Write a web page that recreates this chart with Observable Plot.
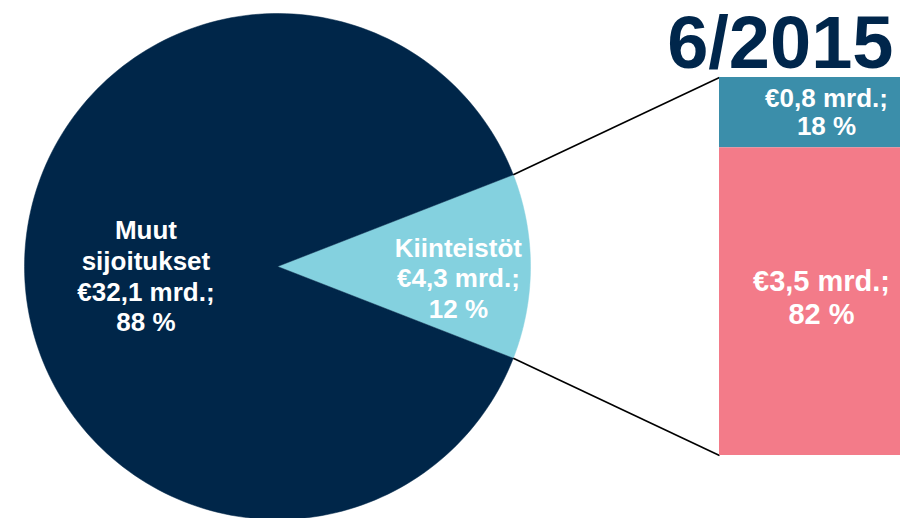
<!DOCTYPE html>
<html>
<head>
<meta charset="utf-8">
<script src="https://cdn.jsdelivr.net/npm/d3@7"></script>
<script src="https://cdn.jsdelivr.net/npm/@observablehq/plot@0.6"></script>
<style>
  html, body { margin: 0; padding: 0; background: #fff; }
  #chart svg { display: block; }
</style>
</head>
<body>
<div id="chart"></div>
<script>
// ---- data ----
const pieCategories = ["Kiinteistöt", "Muut sijoitukset"];
const pieValues = [4.3, 32.1];          // € mrd.
const piePercents = [12, 88];
const pieLabels = ["Kiinteistöt\n€4,3 mrd.;\n12 %", "Muut\nsijoitukset\n€32,1 mrd.;\n88 %"];
const pieColors = ["#84d1df", "#002649"];

const barCategories = ["top", "bottom"];
const barValues = [0.8, 3.5];           // € mrd.
const barPercents = [18, 82];
const barLabels = ["€0,8 mrd.;\n18 %", "€3,5 mrd.;\n82 %"];
const barColors = ["#3b8eaa", "#f37b89"];

const titleText = "6/2015";

// ---- layout ----
const W = 900, H = 518;
const cx = 277, cy = 266, R = 253;
const barX1 = 719, barX2 = 901, barTop = 77, barBottom = 455;

// pie geometry from values: first slice centred on the right (angle 0)
const total = d3.sum(pieValues);
const firstSpan = pieValues[0] / total * 2 * Math.PI;
let a0 = -firstSpan / 2;
const slices = pieValues.map((v, i) => {
  const span = v / total * 2 * Math.PI;
  const s = {i, start: a0, end: a0 + span};
  a0 += span;
  return s;
});
const polyPts = [];
slices.forEach(s => {
  polyPts.push({i: s.i, x: cx, y: cy});
  const n = 200;
  for (let k = 0; k <= n; k++) {
    const a = s.start + (s.end - s.start) * k / n;
    polyPts.push({i: s.i, x: cx + R * Math.cos(a), y: cy + R * Math.sin(a)});
  }
  polyPts.push({i: s.i, x: cx, y: cy});
});

// label positions (polar, from slice mid-angles)
const labelR = [0.715, 0.52];
const labelDy = [11, 9];
const pieText = slices.map(s => {
  const m = (s.start + s.end) / 2;
  return {i: s.i, label: pieLabels[s.i],
    x: cx + labelR[s.i] * R * Math.cos(m),
    y: cy + labelR[s.i] * R * Math.sin(m) + labelDy[s.i]};
});

// stacked bar from values
const barTotal = d3.sum(barValues);
let acc = 0;
const barSegs = barValues.map((v, i) => {
  const y1 = barTop + acc / barTotal * (barBottom - barTop);
  acc += v;
  const y2 = barTop + acc / barTotal * (barBottom - barTop);
  return {i, x1: barX1, x2: barX2, y1, y2, label: barLabels[i]};
});
const barTextX = [826, 821];
const barTextSize = [26, 29];
const barTextDy = [-0.5, -5];

// connector lines from slice edges to bar corners
const s0 = slices[0];
const links = [
  {x1: cx + R * Math.cos(s0.start), y1: cy + R * Math.sin(s0.start), x2: barX1, y2: barTop},
  {x1: cx + R * Math.cos(s0.end), y1: cy + R * Math.sin(s0.end), x2: barX1, y2: barBottom}
];

const font = "'Liberation Sans', Arial, sans-serif";

const chart = Plot.plot({
  width: W, height: H,
  margin: 0,
  x: {domain: [0, W], range: [0, W], axis: null},
  y: {domain: [0, H], range: [0, H], axis: null},
  style: {fontFamily: font, background: "#fff"},
  marks: [
    ...slices.map(s => Plot.line(polyPts.filter(p => p.i === s.i),
      {x: "x", y: "y", fill: pieColors[s.i], stroke: pieColors[s.i], strokeWidth: 0.5, curve: "linear"})),
    Plot.link(links, {x1: "x1", y1: "y1", x2: "x2", y2: "y2", stroke: "#000", strokeWidth: 1.6}),
    Plot.rect(barSegs, {x1: "x1", x2: "x2", y1: "y1", y2: "y2", fill: d => barColors[d.i]}),
    Plot.text(pieText, {x: "x", y: "y", text: "label", fill: "#fff", fontSize: 26, fontWeight: "bold",
      lineHeight: 1.18, textAnchor: "middle", lineAnchor: "middle"}),
    ...barSegs.map(d => Plot.text([d], {x: barTextX[d.i], y: d => (d.y1 + d.y2) / 2 + barTextDy[d.i],
      text: "label", fill: "#fff", fontSize: barTextSize[d.i], fontWeight: "bold",
      lineHeight: d.i === 0 ? 1.08 : 1.15, textAnchor: "middle", lineAnchor: "middle"})),
    Plot.text([titleText], {x: 893, y: 67, text: d => d, fill: "#00264b", fontSize: 74, fontWeight: "bold",
      textAnchor: "end", lineAnchor: "bottom", dy: 0})
  ]
});
document.getElementById("chart").appendChild(chart);
</script>
</body>
</html>
